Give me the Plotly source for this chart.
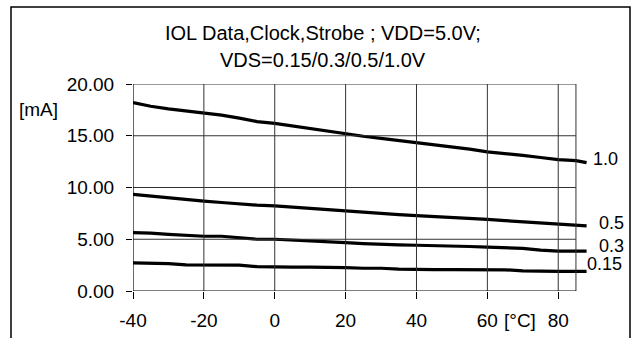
import plotly.graph_objects as go

# Temperature sweep (°C)
temps = [-40, -35, -30, -25, -20, -15, -10, -5, 0, 5, 10, 15, 20, 25, 30,
         35, 40, 45, 50, 55, 60, 65, 70, 75, 80, 85, 88]

# Low-level output current IOL [mA] for each VDS
iol_vds_1_0 = [18.2, 17.85, 17.6, 17.4, 17.18, 17.0, 16.7, 16.37, 16.2, 15.95,
               15.7, 15.45, 15.17, 14.95, 14.75, 14.55, 14.3, 14.15, 13.95, 13.7,
               13.45, 13.3, 13.1, 12.9, 12.7, 12.6, 12.4]
iol_vds_0_5 = [9.33, 9.15, 8.98, 8.85, 8.68, 8.55, 8.4, 8.3, 8.23, 8.1,
               7.97, 7.85, 7.71, 7.6, 7.49, 7.38, 7.28, 7.2, 7.12, 7.02,
               6.92, 6.8, 6.68, 6.55, 6.45, 6.3, 6.3]
iol_vds_0_3 = [5.64, 5.6, 5.48, 5.4, 5.29, 5.29, 5.15, 5.0, 5.0, 4.9,
               4.8, 4.72, 4.67, 4.58, 4.5, 4.45, 4.42, 4.4, 4.37, 4.3,
               4.24, 4.18, 4.12, 3.95, 3.86, 3.86, 3.86]
iol_vds_0_15 = [2.72, 2.72, 2.65, 2.52, 2.5, 2.5, 2.5, 2.35, 2.31, 2.31,
                2.31, 2.3, 2.25, 2.2, 2.2, 2.12, 2.07, 2.07, 2.07, 2.07,
                2.07, 2.05, 1.95, 1.9, 1.9, 1.9, 1.9]

series = [("1.0", iol_vds_1_0), ("0.5", iol_vds_0_5),
          ("0.3", iol_vds_0_3), ("0.15", iol_vds_0_15)]

x_ticks = [-40, -20, 0, 20, 40, 60, 80]
y_ticks = [0, 5, 10, 15, 20]
y_tick_text = ["0.00", "5.00", "10.00", "15.00", "20.00"]

title_lines = ["IOL Data,Clock,Strobe ; VDD=5.0V;", "VDS=0.15/0.3/0.5/1.0V"]

W, H = 635, 338
ML, MR, MT, MB = 133, 47, 84, 47
PW, PH = W - ML - MR, H - MT - MB
X_MIN, X_FRAME, X_MAX = -40, 85, 88.4
FONT = "Liberation Sans, Arial, sans-serif"
GRID = "#333333"


def px_to_paper_x(px):
    return (px - ML) / PW


def px_to_paper_y(py):
    return (H - MB - py) / PH


fig = go.Figure()
for name, vals in series:
    fig.add_trace(go.Scatter(
        x=temps, y=vals, mode="lines", name=name,
        line=dict(color="black", width=3.2), showlegend=False,
        hoverinfo="skip"))

shapes = []
# horizontal grid lines and top frame edge
for yv in [5, 10, 15, 20]:
    shapes.append(dict(type="line", xref="x", yref="y", x0=X_MIN, x1=X_FRAME,
                       y0=yv, y1=yv, line=dict(color=GRID, width=1)))
# vertical grid lines and right frame edge
for xv in [-20, 0, 20, 40, 60, 80, X_FRAME]:
    shapes.append(dict(type="line", xref="x", yref="y", x0=xv, x1=xv,
                       y0=0, y1=20, line=dict(color=GRID, width=1)))
# axis lines
shapes.append(dict(type="line", xref="x", yref="y", x0=X_MIN, x1=X_FRAME,
                   y0=0, y1=0, line=dict(color="black", width=1.2)))
shapes.append(dict(type="line", xref="x", yref="y", x0=X_MIN, x1=X_MIN,
                   y0=0, y1=20, line=dict(color="black", width=1.2)))
# outer chart border
shapes.append(dict(type="rect", xref="paper", yref="paper",
                   x0=px_to_paper_x(11), x1=px_to_paper_x(630),
                   y0=px_to_paper_y(345), y1=px_to_paper_y(7),
                   line=dict(color="black", width=1.5), layer="below"))

annotations = []
for line_text, py in zip(title_lines, [33, 60]):
    annotations.append(dict(text=line_text, xref="paper", yref="paper",
                            x=px_to_paper_x(323), y=px_to_paper_y(py),
                            xanchor="center", yanchor="middle", showarrow=False,
                            font=dict(family=FONT, size=20, color="black")))

# curve labels at the right-hand ends
label_pos = {"1.0": (592, 159), "0.5": (598, 223), "0.3": (598, 246), "0.15": (586, 264)}
for name, _ in series:
    lx, ly = label_pos[name]
    annotations.append(dict(text=name, xref="paper", yref="paper",
                            x=px_to_paper_x(lx), y=px_to_paper_y(ly),
                            xanchor="left", yanchor="middle", showarrow=False,
                            borderpad=0,
                            font=dict(family=FONT, size=18, color="black")))

# unit labels
annotations.append(dict(text="[mA]", xref="paper", yref="paper",
                        x=px_to_paper_x(38), y=px_to_paper_y(109),
                        xanchor="center", yanchor="middle", showarrow=False,
                        font=dict(family=FONT, size=19, color="black")))
annotations.append(dict(text="[°C]", xref="x", yref="paper",
                        x=69.2, y=px_to_paper_y(320),
                        xanchor="center", yanchor="middle", showarrow=False,
                        font=dict(family=FONT, size=19, color="black")))

fig.update_layout(
    width=W, height=H,
    margin=dict(l=ML, r=MR, t=MT, b=MB, pad=0, autoexpand=False),
    paper_bgcolor="white", plot_bgcolor="white",
    shapes=shapes, annotations=annotations,
    xaxis=dict(range=[X_MIN, X_MAX], tickvals=x_ticks,
               ticktext=[str(v) for v in x_ticks],
               showgrid=False, zeroline=False, showline=False,
               ticks="outside", ticklen=7, tickcolor="black", tickwidth=1,
               tickfont=dict(family=FONT, size=19, color="black"),
               ticklabelstandoff=5, automargin=False, fixedrange=True),
    yaxis=dict(range=[0, 20], tickvals=y_ticks, ticktext=y_tick_text,
               showgrid=False, zeroline=False, showline=False,
               ticks="outside", ticklen=6, tickcolor="black", tickwidth=1,
               tickfont=dict(family=FONT, size=19, color="black"),
               ticklabelstandoff=8, automargin=False, fixedrange=True),
)

fig.write_html("out.html")
